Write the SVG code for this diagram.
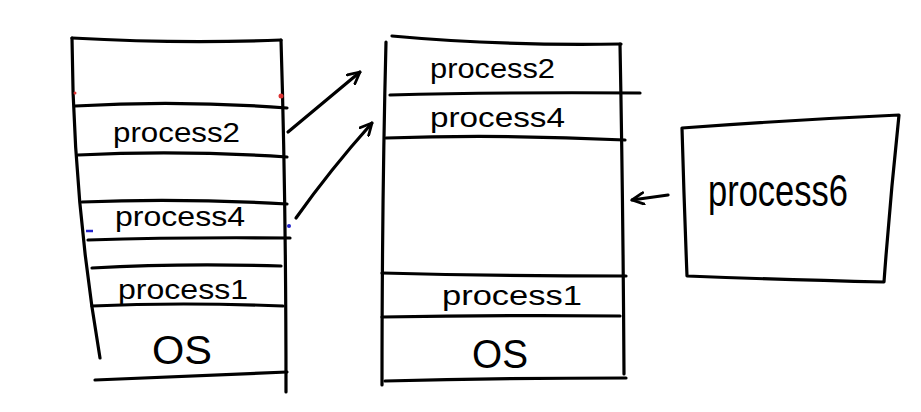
<svg xmlns="http://www.w3.org/2000/svg" width="921" height="412" viewBox="0 0 921 412">
<style>
.ln{fill:none;stroke:#000;stroke-width:3.2;stroke-linecap:round;stroke-linejoin:round}
.t{font-family:"Liberation Sans",Arial,sans-serif;fill:#000}
.s{font-size:28px}
.os{font-size:40px}
</style>
<defs>
<marker id="ah" viewBox="0 0 12 12" refX="11" refY="6" markerWidth="14" markerHeight="14" orient="auto" markerUnits="userSpaceOnUse">
<path d="M1,1 L11,6 L1,11" fill="none" stroke="#000" stroke-width="2.4" stroke-linecap="round" stroke-linejoin="round"/>
</marker>
</defs>
<rect width="921" height="412" fill="#fff"/>
<g id="left-memory">
<path class="ln" d="M72,38 Q73,200 100,358"/>
<path class="ln" d="M281,40 Q286,200 286,392"/>
<path class="ln" d="M72,38 Q180,44 281,40"/>
<path class="ln" d="M75,106 Q180,100 287,108"/>
<path class="ln" d="M78,155 Q180,150 287,157"/>
<path class="ln" d="M82,202 Q180,198 287,204"/>
<path class="ln" d="M88,240 Q180,237 290,238"/>
<path class="ln" d="M92,268 Q180,263 281,266"/>
<path class="ln" d="M92,306 Q180,302 283,306"/>
<path class="ln" d="M95,380 Q190,376 287,372"/>
<circle cx="75" cy="93" r="1.5" fill="#d33"/>
<circle cx="281" cy="96" r="2.5" fill="#d33"/>
<path d="M86,231 L93,231" stroke="#22c" stroke-width="2.5"/>
<circle cx="289" cy="226" r="2" fill="#22c"/>
<text class="t s" x="113" y="142" textLength="127" lengthAdjust="spacingAndGlyphs">process2</text>
<text class="t s" x="115" y="226" textLength="130" lengthAdjust="spacingAndGlyphs">process4</text>
<text class="t s" x="118" y="299" textLength="130" lengthAdjust="spacingAndGlyphs">process1</text>
<text class="t os" x="152" y="364" textLength="60" lengthAdjust="spacingAndGlyphs">OS</text>
</g>
<g id="right-memory">
<path class="ln" d="M386,42 Q382,200 382,385"/>
<path class="ln" d="M620,44 Q623,200 624,374"/>
<path class="ln" d="M392,36 Q500,46 621,44"/>
<path class="ln" d="M390,95 Q500,92 640,93"/>
<path class="ln" d="M386,138 Q500,134 625,140"/>
<path class="ln" d="M382,273 Q500,276 626,276"/>
<path class="ln" d="M382,317 Q500,315 620,316"/>
<path class="ln" d="M385,381 Q500,378 626,378"/>
<text class="t s" x="430" y="78" textLength="125" lengthAdjust="spacingAndGlyphs">process2</text>
<text class="t s" x="430" y="127" textLength="135" lengthAdjust="spacingAndGlyphs">process4</text>
<text class="t s" x="442" y="305" textLength="140" lengthAdjust="spacingAndGlyphs">process1</text>
<text class="t os" x="472" y="368" textLength="56" lengthAdjust="spacingAndGlyphs">OS</text>
</g>
<g id="process6">
<path class="ln" d="M682,128 Q790,120 899,115 Q890,200 884,282 Q790,280 687,276 Q684,200 682,128 Z"/>
<text class="t" font-size="44" x="708" y="206" textLength="140" lengthAdjust="spacingAndGlyphs">process6</text>
</g>
<g id="connectors">
<path class="ln" d="M288,132 L360,72" marker-end="url(#ah)"/>
<path class="ln" d="M296,218 Q330,170 372,123" marker-end="url(#ah)"/>
<path class="ln" d="M668,195 L632,200" marker-end="url(#ah)"/>
</g>
</svg>
